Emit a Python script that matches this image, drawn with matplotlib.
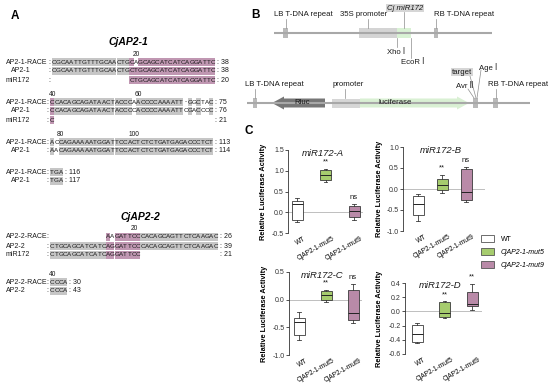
import matplotlib.pyplot as plt
from matplotlib.patches import Rectangle, Polygon, Patch
from matplotlib.transforms import ScaledTranslation

plt.rcParams['font.family'] = ['Liberation Sans', 'DejaVu Sans']
plt.rcParams['axes.linewidth'] = 0.6

W, H = 550, 387

# ---------------- panel A: alignments ----------------
ap21_names = ["AP2-1-RACE", "AP2-1", "miR172"]
ap21_block1 = ["CGCAATTGTTTGCAACTGCAGCAGCATCATCAGGATTC",
               "CGCAATTGTTTGCAACTGCTGCAGCATCATCAGGATTC",
               "                  CTGCAGCATCATCAGGATTC"]
ap21_block1_ends = [38, 38, 20]
ap21_block2 = ["CCACAGCAGATAACTACCCAACCCCAAAATT-GGCTAC",
               "CCACAGCAGATAACTACCCCACCCCAAAATTCGACCCC",
               "C"]
ap21_block2_ends = [75, 76, 21]
ap21_block3 = ["ACCAGAAAAATGGATTCCACTCTCTGATGAGACCCTCT",
               "AACAGAAAAATGGATTCCACTCTCTGATGAGACCCTCT"]
ap21_block3_ends = [113, 114]
ap21_block4 = ["TGA", "TGA"]
ap21_block4_ends = [116, 117]

ap22_names = ["AP2-2-RACE", "AP2-2", "miR172"]
ap22_block1 = ["             AAGATTCCCACAGCAGTTCTCAAGAC",
               "CTGCAGCATCATCAGGATTCCCACAGCAGTTCTCAAGAC",
               "CTGCAGCATCATCAGGATTCC"]
ap22_block1_ends = [26, 39, 21]
ap22_block2 = ["CCCA", "CCCA"]
ap22_block2_ends = [30, 43]

# ---------------- panel C: box statistics ----------------
groups = ["WT", "CjAP2-1-mut5", "CjAP2-1-mut9"]
titles = ["miR172-A", "miR172-B", "miR172-C", "miR172-D"]
# (whislo, q1, med, q3, whishi) for WT, mut5, mut9
mir_a = [(-0.23, -0.19, 0.21, 0.27, 0.34), (0.74, 0.78, 0.90, 1.02, 1.05), (-0.19, -0.11, 0.03, 0.15, 0.19)]
mir_b = [(-0.77, -0.61, -0.36, -0.17, -0.13), (-0.10, -0.02, 0.10, 0.24, 0.34), (-0.31, -0.25, -0.07, 0.48, 0.52)]
mir_c = [(-0.72, -0.63, -0.41, -0.34, -0.23), (-0.05, -0.01, 0.09, 0.15, 0.18), (-0.43, -0.37, -0.24, 0.18, 0.28)]
mir_d = [(-0.45, -0.43, -0.32, -0.19, -0.16), (-0.09, -0.08, -0.02, 0.13, 0.14), (0.02, 0.07, 0.11, 0.28, 0.39)]
signif = [["", "**", "ns"], ["", "**", "ns"], ["", "**", "ns"], ["", "**", "**"]]
yticks = [[-0.5, 0.0, 0.5, 1.0, 1.5], [-1.0, -0.5, 0.0, 0.5, 1.0],
          [-1.0, -0.5, 0.0, 0.5], [-0.6, -0.4, -0.2, 0.0, 0.2, 0.4]]

PINK = "#c097b2"
GRAY = "#c6c6c6"
GREEN = "#a6cc6e"
MAUVE = "#b98aa8"
TXT = "#1a1a1a"

fig = plt.figure(figsize=(W / 100, H / 100), dpi=100)
ov = fig.add_axes([0, 0, 1, 1])
ov.set_xlim(0, W)
ov.set_ylim(H, 0)
ov.axis('off')
ov.patch.set_alpha(0)


def draw_block(names, seqs, ends, marks, x0, y0, cw=4.3, dy=9):
    ncol = max(len(s) for s in seqs)
    seqs = [s.ljust(ncol) for s in seqs]
    for c in range(ncol):
        col = [s[c] for s in seqs]
        present = [ch for ch in col if ch != " "]
        for r, ch in enumerate(col):
            if ch == " ":
                continue
            y = y0 + r * dy
            if present.count(ch) >= 2 and ch != "-":
                fc = PINK if len(present) == 3 else GRAY
                ov.add_patch(Rectangle((x0 + c * cw, y - 4), cw, 8, fc=fc, lw=0))
            ov.text(x0 + (c + 0.5) * cw, y, ch, fontsize=4.5, ha='center',
                    va='center', color=TXT)
    for r, (name, end) in enumerate(zip(names, ends)):
        y = y0 + r * dy
        indent = 5 if name == "AP2-1" else 0
        ov.text(6 + indent, y, name, fontsize=5, ha='left', va='center', color=TXT)
        ov.text(x0 - 2.5, y, ":", fontsize=5, ha='center', va='center', color=TXT)
        ov.text(x0 + ncol * cw + 2, y, ": %d" % end, fontsize=5, ha='left',
                va='center', color=TXT)
    for c, lab in marks.items():
        ov.text(x0 + (c + 0.5) * cw, y0 - 8, lab, fontsize=4.8, ha='center',
                va='center', color=TXT)


ov.text(15, 16, "A", fontsize=8.5, weight='bold', ha='center', va='center')
ov.text(128, 42, "CjAP2-1", fontsize=7.5, weight='bold', style='italic',
        ha='center', va='center')
draw_block(ap21_names, ap21_block1, ap21_block1_ends, {19: "20"}, 52, 62)
draw_block(ap21_names, ap21_block2, ap21_block2_ends, {0: "40", 20: "60"}, 50, 102)
draw_block(ap21_names[:2], ap21_block3, ap21_block3_ends, {2: "80", 19: "100"}, 50, 142)
draw_block(ap21_names[:2], ap21_block4, ap21_block4_ends, {}, 50, 172)

ov.text(140, 217, "CjAP2-2", fontsize=7.5, weight='bold', style='italic',
        ha='center', va='center')
draw_block(ap22_names, ap22_block1, ap22_block1_ends, {19: "20"}, 50, 237)
draw_block(ap22_names[:2], ap22_block2, ap22_block2_ends, {0: "40"}, 50, 282)

# ---------------- panel B: constructs ----------------
LINE = "#a8a8a8"
SQ = "#b9b9b9"
LEAD = "#8c8c8c"
lab_kw = dict(fontsize=5.6, color=TXT, va='center')


def rect(x0, x1, y, h, fc):
    ov.add_patch(Rectangle((x0, y - h / 2), x1 - x0, h, fc=fc, lw=0))


def lead(x0, y0, x1, y1):
    ov.plot([x0, x1], [y0, y1], color=LEAD, lw=0.5)


ov.text(255, 15, "B", fontsize=8.5, weight='bold', ha='center', va='center')
ov.plot([274, 492], [33, 33], color=LINE, lw=1.5, solid_capstyle='butt')
rect(283, 288, 33, 10, SQ)
rect(359, 397, 33, 10, "#d4d4d4")
rect(397, 411, 33, 10, "#d9f2d4")
rect(434, 438, 33, 10, SQ)
ov.text(274, 15, "LB T-DNA repeat", ha='left', **lab_kw)
lead(286, 19, 286, 28)
ov.text(340, 15, "35S promoter", ha='left', **lab_kw)
lead(368, 19, 368, 28)
ov.text(405, 8, "Cj miR172", ha='center', style='italic',
        bbox=dict(fc="#d6d6d6", ec='none', pad=0.6), **lab_kw)
lead(404, 12, 404, 28)
ov.text(434, 15, "RB T-DNA repeat", ha='left', **lab_kw)
lead(436, 19, 436, 28)
lead(397, 38, 397, 47)
ov.text(396, 52, "Xho \u2160", ha='center', **lab_kw)
lead(411, 38, 411, 58)
ov.text(413, 63, "EcoR \u2160", ha='center', **lab_kw)

ov.plot([247, 530], [103, 103], color=LINE, lw=1.5, solid_capstyle='butt')
rect(253, 257, 103, 10, SQ)
ov.add_patch(Polygon([(272, 103), (284, 96.5), (284, 98.5), (325, 98.5),
                      (325, 107.5), (284, 107.5), (284, 109.5)],
                     closed=True, fc="#767676", lw=0))
ov.text(302, 103, "Rluc", ha='center', **lab_kw)
rect(332, 360, 103, 9, "#d6d6d6")
ov.add_patch(Polygon([(360, 98.5), (457, 98.5), (457, 96.5), (469, 103),
                      (457, 109.5), (457, 107.5), (360, 107.5)],
                     closed=True, fc="#d9f0d3", lw=0))
ov.text(395, 103, "luciferase", ha='center', **lab_kw)
rect(473, 478, 103, 10, SQ)
rect(493, 498, 103, 10, SQ)
ov.text(245, 85, "LB T-DNA repeat", ha='left', **lab_kw)
lead(255, 89, 255, 98)
ov.text(333, 85, "promoter", ha='left', **lab_kw)
lead(345, 89, 345, 98)
ov.text(465, 86, "Avr \u2161", ha='center', **lab_kw)
lead(468, 89, 474, 98)
ov.text(462, 72, "target", ha='center', bbox=dict(fc="#d6d6d6", ec='none', pad=0.6),
        **lab_kw)
lead(470, 76, 476, 98)
ov.text(488, 67, "Age \u2160", ha='center', **lab_kw)
lead(481, 70, 477, 98)
ov.text(488, 85, "RB T-DNA repeat", ha='left', **lab_kw)
lead(496, 89, 496, 98)

# ---------------- panel C: box plots ----------------
ov.text(249, 131, "C", fontsize=8.5, weight='bold', ha='center', va='center')

# left, right, top, bottom (px); x of first and last box (px); ylabel x (px)
frames = [(288, 363, 150, 233, 297, 354, 267),
          (403, 485, 147, 231, 418, 466, 383),
          (289, 362, 272, 355, 299, 353, 268),
          (405, 482, 283, 354, 417, 472, 383)]
datasets = [mir_a, mir_b, mir_c, mir_d]
fills = ["white", GREEN, MAUVE]

for i, (left, right, top, bot, px1, px3, ylx) in enumerate(frames):
    ax = fig.add_axes([left / W, 1 - bot / H, (right - left) / W, (bot - top) / H])
    ax.patch.set_alpha(0)
    sp = (px3 - px1) / 2
    ax.set_xlim(1 - (px1 - left) / sp, 3 + (right - px3) / sp)
    ax.set_ylim(yticks[i][0], yticks[i][-1])
    ax.axhline(0, color="#b4b4b4", lw=0.6, zorder=0)
    stats = [dict(whislo=a, q1=b, med=c, q3=d, whishi=e, label=g)
             for (a, b, c, d, e), g in zip(datasets[i], groups)]
    bw = 11 / sp
    bp = ax.bxp(stats, positions=[1, 2, 3], widths=bw, showfliers=False,
                patch_artist=True, capwidths=bw * 0.3,
                boxprops=dict(lw=0.6, edgecolor="#3a3a3a"),
                medianprops=dict(color="#222222", lw=0.7),
                whiskerprops=dict(color="#3a3a3a", lw=0.6),
                capprops=dict(color="#3a3a3a", lw=0.6))
    for patch, fc in zip(bp['boxes'], fills):
        patch.set_facecolor(fc)
    for pos, st, s in zip([1, 2, 3], datasets[i], signif[i]):
        if s:
            ax.annotate(s, (pos, st[4]), xytext=(0, 2.5), textcoords='offset points',
                        ha='center', va='bottom', fontsize=5.5, color=TXT)
    ax.text(0.46, 0.96, titles[i], transform=ax.transAxes, fontsize=6.8,
            style='italic', ha='center', va='center', color=TXT)
    for s in ['top', 'right', 'bottom']:
        ax.spines[s].set_visible(False)
    ax.spines['left'].set_color("#333333")
    ax.set_yticks(yticks[i])
    ax.set_yticklabels(["%.1f" % v for v in yticks[i]])
    ax.tick_params(axis='y', length=2, width=0.6, labelsize=5, pad=1, colors="#333333")
    ax.tick_params(axis='x', length=0, labelsize=4.8, pad=1.5)
    ax.set_xticks([1, 2, 3])
    ax.set_xticklabels(groups, rotation=30, ha='right')
    off = ScaledTranslation(0.1, 0, fig.dpi_scale_trans)
    for t in ax.get_xticklabels():
        t.set_transform(t.get_transform() + off)
    ax.set_ylabel("Relative Luciferase Activity", fontsize=5.3, weight='bold')
    ax.yaxis.set_label_coords(-(left - ylx) / (right - left), 0.5)

handles = [Patch(fc=f, ec="#555555", lw=0.6) for f in fills]
leg = fig.legend(handles, groups, loc='upper left', bbox_to_anchor=(481 / W, 1 - 235 / H),
                 frameon=False, fontsize=5, handlelength=1.85, handleheight=1.15,
                 labelspacing=0.75, handletextpad=1.0, borderaxespad=0, borderpad=0)
for t in leg.get_texts()[1:]:
    t.set_style('italic')

fig.savefig("out.png", dpi=100, facecolor="white")
